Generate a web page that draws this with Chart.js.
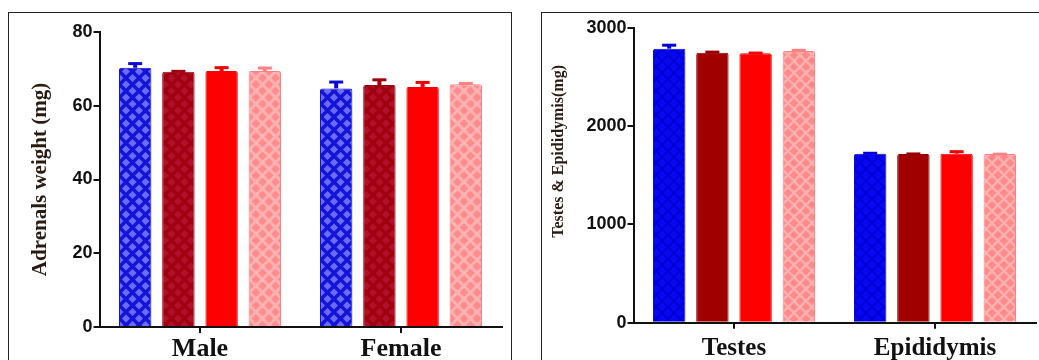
<!DOCTYPE html>
<html>
<head>
<meta charset="utf-8">
<script src="https://cdn.jsdelivr.net/npm/chart.js@4.4.1/dist/chart.umd.min.js"></script>
<style>
  html, body { margin: 0; padding: 0; background: #fff; }
  body { width: 1039px; height: 360px; overflow: hidden; position: relative; }
  .panel { position: absolute; top: 12px; height: 360px; border: 1px solid #222; border-bottom: none; }
  #p1 { left: 8px; width: 502px; }
  #p2 { left: 541px; width: 520px; }
  .panel canvas { position: absolute; left: 0; top: 0; }
</style>
</head>
<body>
<div class="panel" id="p1"><div style="position:absolute;left:0;top:0;width:502px;height:347px"><canvas id="c1"></canvas></div></div>
<div class="panel" id="p2"><div style="position:absolute;left:0;top:0;width:500px;height:347px"><canvas id="c2"></canvas></div></div>
<script>
// --- data ---
const sexLabels = ['Male', 'Female'];
const adrenalGroup1 = [70.3, 64.7];
const adrenalGroup2 = [69.2, 65.6];
const adrenalGroup3 = [69.4, 65.1];
const adrenalGroup4 = [69.4, 65.8];
const adrenalErr1 = [1.4, 2.0];
const adrenalErr2 = [0.4, 1.7];
const adrenalErr3 = [1.2, 1.5];
const adrenalErr4 = [1.1, 0.5];
const adrenalTicks = [0, 20, 40, 60, 80];

const organLabels = ['Testes', 'Epididymis'];
const organGroup1 = [2790, 1721];
const organGroup2 = [2749, 1718];
const organGroup3 = [2742, 1721];
const organGroup4 = [2765, 1718];
const organErr1 = [45, 14];
const organErr2 = [16, 10];
const organErr3 = [13, 30];
const organErr4 = [18, 8];
const organTicks = [0, 1000, 2000, 3000];

// crosshatch tile for patterned bars
function hatch(bg, line, size, width) {
  const c = document.createElement('canvas');
  c.width = size; c.height = size;
  const g = c.getContext('2d');
  g.fillStyle = bg;
  g.fillRect(0, 0, size, size);
  g.strokeStyle = line;
  g.lineWidth = width;
  g.beginPath();
  g.moveTo(-1, -1); g.lineTo(size + 1, size + 1);
  g.moveTo(size + 1, -1); g.lineTo(-1, size + 1);
  g.stroke();
  return g.createPattern(c, 'repeat');
}

// upper error bars drawn from the bar elements and the y scale
const errorBars = {
  id: 'errorBars',
  afterDatasetsDraw(chart) {
    const ctx = chart.ctx;
    const y = chart.scales.y;
    chart.data.datasets.forEach((ds, i) => {
      const meta = chart.getDatasetMeta(i);
      meta.data.forEach((bar, j) => {
        const top = y.getPixelForValue(ds.data[j] + ds.errors[j]);
        ctx.save();
        ctx.strokeStyle = ds.errColor;
        ctx.lineWidth = 4;
        ctx.beginPath();
        ctx.moveTo(bar.x, bar.y);
        ctx.lineTo(bar.x, top);
        ctx.stroke();
        ctx.lineWidth = 3;
        ctx.beginPath();
        ctx.moveTo(bar.x - 7, top + 1);
        ctx.lineTo(bar.x + 7, top + 1);
        ctx.stroke();
        ctx.restore();
      });
    });
  }
};

function makeDataset(values, errors, fill, edge) {
  return {
    data: values,
    errors: errors,
    errColor: edge,
    backgroundColor: fill,
    borderColor: edge,
    borderWidth: 1,
    borderSkipped: 'bottom',
    borderRadius: 2,
    categoryPercentage: 0.86,
    barPercentage: 0.75
  };
}

function makeChart(canvasId, labels, datasets, opts) {
  return new Chart(document.getElementById(canvasId), {
    type: 'bar',
    data: { labels: labels, datasets: datasets },
    plugins: [errorBars],
    options: {
      responsive: true,
      maintainAspectRatio: false,
      animation: false,
      layout: { padding: opts.padding },
      plugins: { legend: { display: false }, tooltip: { enabled: false } },
      scales: {
        x: {
          border: { color: '#111', width: 2 },
          grid: { display: true, offset: false, drawOnChartArea: false, tickLength: 6, color: '#111', lineWidth: 2 },
          ticks: {
            color: '#111',
            padding: opts.xPad,
            font: { family: '"Liberation Serif", "Times New Roman", serif', weight: 'bold', size: opts.xSize }
          },
          afterFit(s) { s.height = opts.xHeight; }
        },
        y: {
          min: 0,
          max: opts.max,
          afterBuildTicks(s) { s.ticks = opts.ticks.map(v => ({ value: v })); },
          border: { color: '#111', width: 2 },
          grid: { drawOnChartArea: false, tickLength: 6, color: '#111', lineWidth: 2 },
          ticks: {
            color: '#111',
            padding: 1,
            callback: v => String(v),
            font: { family: '"Liberation Sans", Arial, sans-serif', weight: 'bold', size: 18 }
          },
          title: {
            display: true,
            text: opts.title,
            color: '#2a1a10',
            padding: { top: opts.titlePad, bottom: 0 },
            font: { family: '"Liberation Serif", "Times New Roman", serif', weight: 'bold', size: opts.titleSize }
          },
          afterFit(s) { s.width = opts.yWidth; }
        }
      }
    }
  });
}

const blueL = hatch('#6b6bff', '#1414d8', 13, 3.5);
const darkRedL = hatch('#b0102a', '#a00010', 13, 3.5);
const pinkL = hatch('#ff8c8c', '#ffb2b2', 13, 3);
const blueR = hatch('#0808f0', '#0000d8', 12, 2);
const pinkR = hatch('#ff8888', '#ffb0b0', 12, 2.5);

makeChart('c1', sexLabels, [
  makeDataset(adrenalGroup1, adrenalErr1, blueL, '#0a0ad0'),
  makeDataset(adrenalGroup2, adrenalErr2, darkRedL, '#a0000c'),
  makeDataset(adrenalGroup3, adrenalErr3, '#ff0000', '#f00000'),
  makeDataset(adrenalGroup4, adrenalErr4, pinkL, '#ff8080')
], {
  max: 80, ticks: adrenalTicks, title: 'Adrenals weight (mg)', titleSize: 21, titlePad: 19,
  padding: { top: 19, right: 9.5, left: 0, bottom: 0 }, yWidth: 90.5, xHeight: 33, xPad: 1, xSize: 26
});

makeChart('c2', organLabels, [
  makeDataset(organGroup1, organErr1, blueR, '#0000d8'),
  makeDataset(organGroup2, organErr2, '#a00000', '#980000'),
  makeDataset(organGroup3, organErr3, '#ff0000', '#f00000'),
  makeDataset(organGroup4, organErr4, pinkR, '#ff8080')
], {
  max: 3000, ticks: organTicks,
  // leading spaces push the title up the axis, as in the figure
  title: '\u2003\u2003\u2003Testes & Epididymis(mg)', titleSize: 16, titlePad: 7,
  padding: { top: 15, right: 6.5, left: 0, bottom: 0 }, yWidth: 91.5, xHeight: 37.3, xPad: 5, xSize: 25
});
</script>
</body>
</html>
